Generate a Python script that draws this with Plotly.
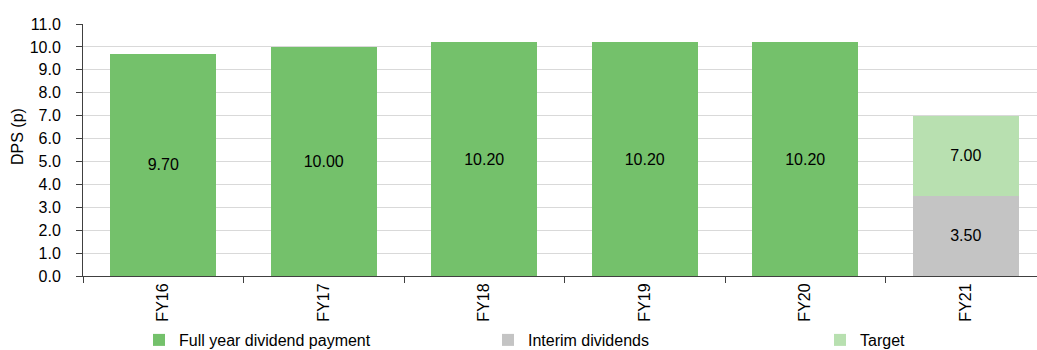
import plotly.graph_objects as go

categories = ["FY16", "FY17", "FY18", "FY19", "FY20", "FY21"]
full_year = [9.70, 10.00, 10.20, 10.20, 10.20, None]
interim = [None, None, None, None, None, 3.50]
target_total = [None, None, None, None, None, 7.00]
y_ticks = [0, 1, 2, 3, 4, 5, 6, 7, 8, 9, 10, 11]

FONT = "Liberation Sans, Arial, sans-serif"
FS = 16
W, H = 1037, 350

target_seg = [(t - i) if (t is not None and i is not None) else None
              for t, i in zip(target_total, interim)]

def fmt(vals):
    return [f"{v:.2f}" if v is not None else "" for v in vals]

fig = go.Figure()
fig.add_trace(go.Bar(
    x=categories, y=full_year, name="Full year dividend payment",
    marker=dict(color="#74C16B", line=dict(width=0)),
    text=fmt(full_year), textposition="inside", insidetextanchor="middle",
    textfont=dict(family=FONT, size=FS, color="#000000"),
    legend="legend",
))
fig.add_trace(go.Bar(
    x=categories, y=interim, name="Interim dividends",
    marker=dict(color="#C4C4C4", line=dict(width=0)),
    text=fmt(interim), textposition="inside", insidetextanchor="middle",
    textfont=dict(family=FONT, size=FS, color="#000000"),
    legend="legend2",
))
fig.add_trace(go.Bar(
    x=categories, y=target_seg, name="Target",
    marker=dict(color="#B8E0B0", line=dict(width=0)),
    text=fmt(target_total), textposition="inside", insidetextanchor="middle",
    textfont=dict(family=FONT, size=FS, color="#000000"),
    legend="legend3",
))

ml, mt, mb = 83, 24, 74
plot_w = W - ml
cat_w = 160.5
x_span = plot_w / cat_w

def leg(text_x):
    return dict(
        xref="container", yref="container",
        x=(text_x - 40) / W, y=1 - 340 / H,
        xanchor="left", yanchor="middle",
        orientation="h", bgcolor="rgba(0,0,0,0)",
        font=dict(family=FONT, size=FS, color="#000000"),
        itemclick=False, itemdoubleclick=False,
    )

fig.update_layout(
    width=W, height=H,
    margin=dict(l=ml, r=0, t=mt, b=mb, pad=0),
    barmode="stack", bargap=0.34,
    plot_bgcolor="#FFFFFF", paper_bgcolor="#FFFFFF",
    font=dict(family=FONT, size=FS, color="#000000"),
    uniformtext=dict(minsize=FS, mode="show"),
    showlegend=True,
    legend=leg(179), legend2=leg(528), legend3=leg(860),
    xaxis=dict(
        type="category", range=[-0.5, -0.5 + x_span],
        tickangle=-90, tickson="boundaries", ticks="outside", ticklen=6,
        tickcolor="#404040", showline=True, linecolor="#404040", linewidth=1,
        showgrid=False, tickfont=dict(family=FONT, size=FS, color="#000000"),
        fixedrange=True,
    ),
    yaxis=dict(
        range=[0, 11], tickvals=y_ticks,
        ticktext=[f"{v:.1f}" for v in y_ticks],
        ticks="outside", ticklen=6, tickcolor="#404040",
        ticklabelstandoff=12,
        showline=True, linecolor="#404040", linewidth=1,
        showgrid=True, gridcolor="#D9D9D9", gridwidth=1,
        zeroline=False,
        tickfont=dict(family=FONT, size=FS, color="#000000"),
        fixedrange=True,
    ),
    annotations=[dict(
        text="DPS (p)", textangle=-90, showarrow=False,
        xref="paper", yref="paper",
        x=(17.5 - ml) / plot_w, y=(276 - 136.5) / (H - mt - mb),
        xanchor="center", yanchor="middle",
        font=dict(family=FONT, size=FS, color="#000000"),
    )],
)

fig.write_html("out.html", config={"displayModeBar": False})
